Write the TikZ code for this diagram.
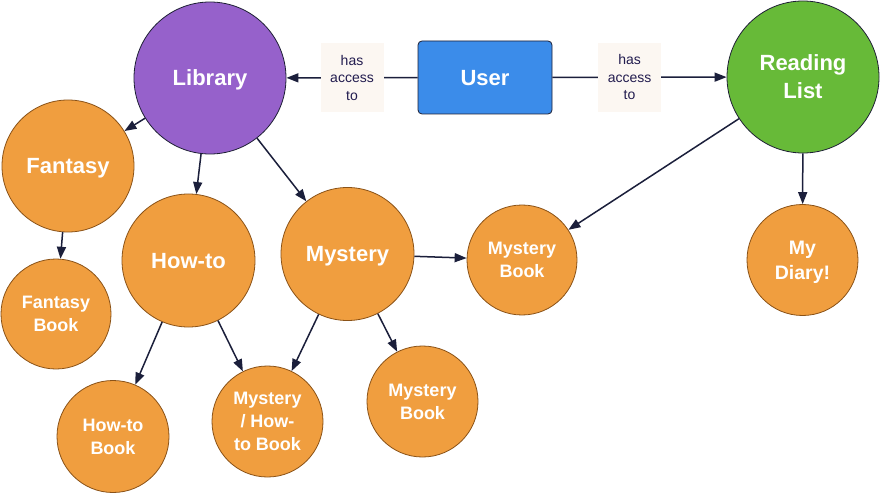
\documentclass[tikz,border=0pt]{standalone}
\usepackage{fontspec}
\setmainfont{Liberation Sans}
\usetikzlibrary{arrows.meta}
\definecolor{purpleF}{HTML}{9661CB}
\definecolor{blueF}{HTML}{3B8CEA}
\definecolor{greenF}{HTML}{67BA38}
\definecolor{orangeF}{HTML}{F09E3F}
\definecolor{orangeD}{HTML}{8A5217}
\definecolor{darkB}{HTML}{1E2035}
\definecolor{arrowC}{HTML}{1B1F3B}
\definecolor{lblF}{HTML}{FCF7F2}
\definecolor{lblT}{HTML}{221C4F}
\begin{document}
\begin{tikzpicture}[x=1pt,y=-1pt]
\tikzset{
  circ/.style={circle,inner sep=0pt,line width=0.8pt,text=white,align=center,
    font=\bfseries\fontsize{22}{28}\selectfont,text height=15.8pt,text depth=0pt},
  orangec/.style={circ,fill=orangeF,draw=orangeD},
  smalltext/.style={font=\bfseries\fontsize{18}{23}\selectfont,text height=35.9pt,text depth=0pt},
  conn/.style={draw=arrowC,line width=1.5pt,-{Triangle[length=12pt,width=9pt]}},
  lbl/.style={fill=lblF,text=lblT,font=\fontsize{14}{17.5}\selectfont,align=center,
    minimum width=63pt,minimum height=69pt,inner sep=0pt,text height=45.2pt,text depth=0pt}
}
\useasboundingbox (0,0) rectangle (880,494);
\fill[white] (0,0) rectangle (880,494);

\node[circ,fill=purpleF,draw=darkB,minimum size=152pt] (lib) at (210,78) {Library};
\node[rectangle,rounded corners=4pt,fill=blueF,draw=darkB,line width=0.8pt,
  minimum width=134pt,minimum height=73pt,inner sep=0pt,text=white,
  font=\bfseries\fontsize{22}{28}\selectfont,text height=15.8pt,text depth=0pt] (user) at (485,77.5) {User};
\node[circ,fill=greenF,draw=darkB,minimum size=152pt,text height=43.8pt] (rl) at (803,77) {Reading\\List};
\node[orangec,minimum size=132pt] (fan) at (68,166) {Fantasy};
\node[orangec,minimum size=133pt] (how) at (188.5,260.5) {How-to};
\node[orangec,minimum size=133pt] (mys) at (347.5,254) {Mystery};
\node[orangec,smalltext,minimum size=110pt] (mb1) at (522,260) {Mystery\\Book};
\node[orangec,minimum size=111pt,font=\bfseries\fontsize{19.5}{24.5}\selectfont,
  text height=38.5pt,text depth=0pt] (diary) at (802.5,260) {My\\Diary!};
\node[orangec,smalltext,minimum size=110pt] (fb) at (56,314) {Fantasy\\Book};
\node[orangec,smalltext,minimum size=112pt] (hb) at (113,436.5) {How-to\\Book};
\node[orangec,smalltext,minimum size=111pt,text height=58.9pt] (mhb) at (267.5,421.5) {Mystery\\/ How-\\to Book};
\node[orangec,smalltext,minimum size=111pt] (mb2) at (422.5,401.5) {Mystery\\Book};

\draw[conn] (user) -- (lib) node[lbl,pos=0.5] (l1) {has\\access\\to};
\draw[conn] (user) -- (rl) node[lbl,pos=0.443] (l2) {has\\access\\to};
\draw[conn] (lib) -- (fan);
\draw[conn] (lib) -- (how);
\draw[conn] (lib) -- (mys);
\draw[conn] (fan) -- (fb);
\draw[conn] (how) -- (hb);
\draw[conn] (how) -- (mhb);
\draw[conn] (mys) -- (mhb);
\draw[conn] (mys) -- (mb2);
\draw[conn] (mys) -- (mb1);
\draw[conn] (rl) -- (mb1);
\draw[conn] (rl) -- (diary);
\end{tikzpicture}
\end{document}
